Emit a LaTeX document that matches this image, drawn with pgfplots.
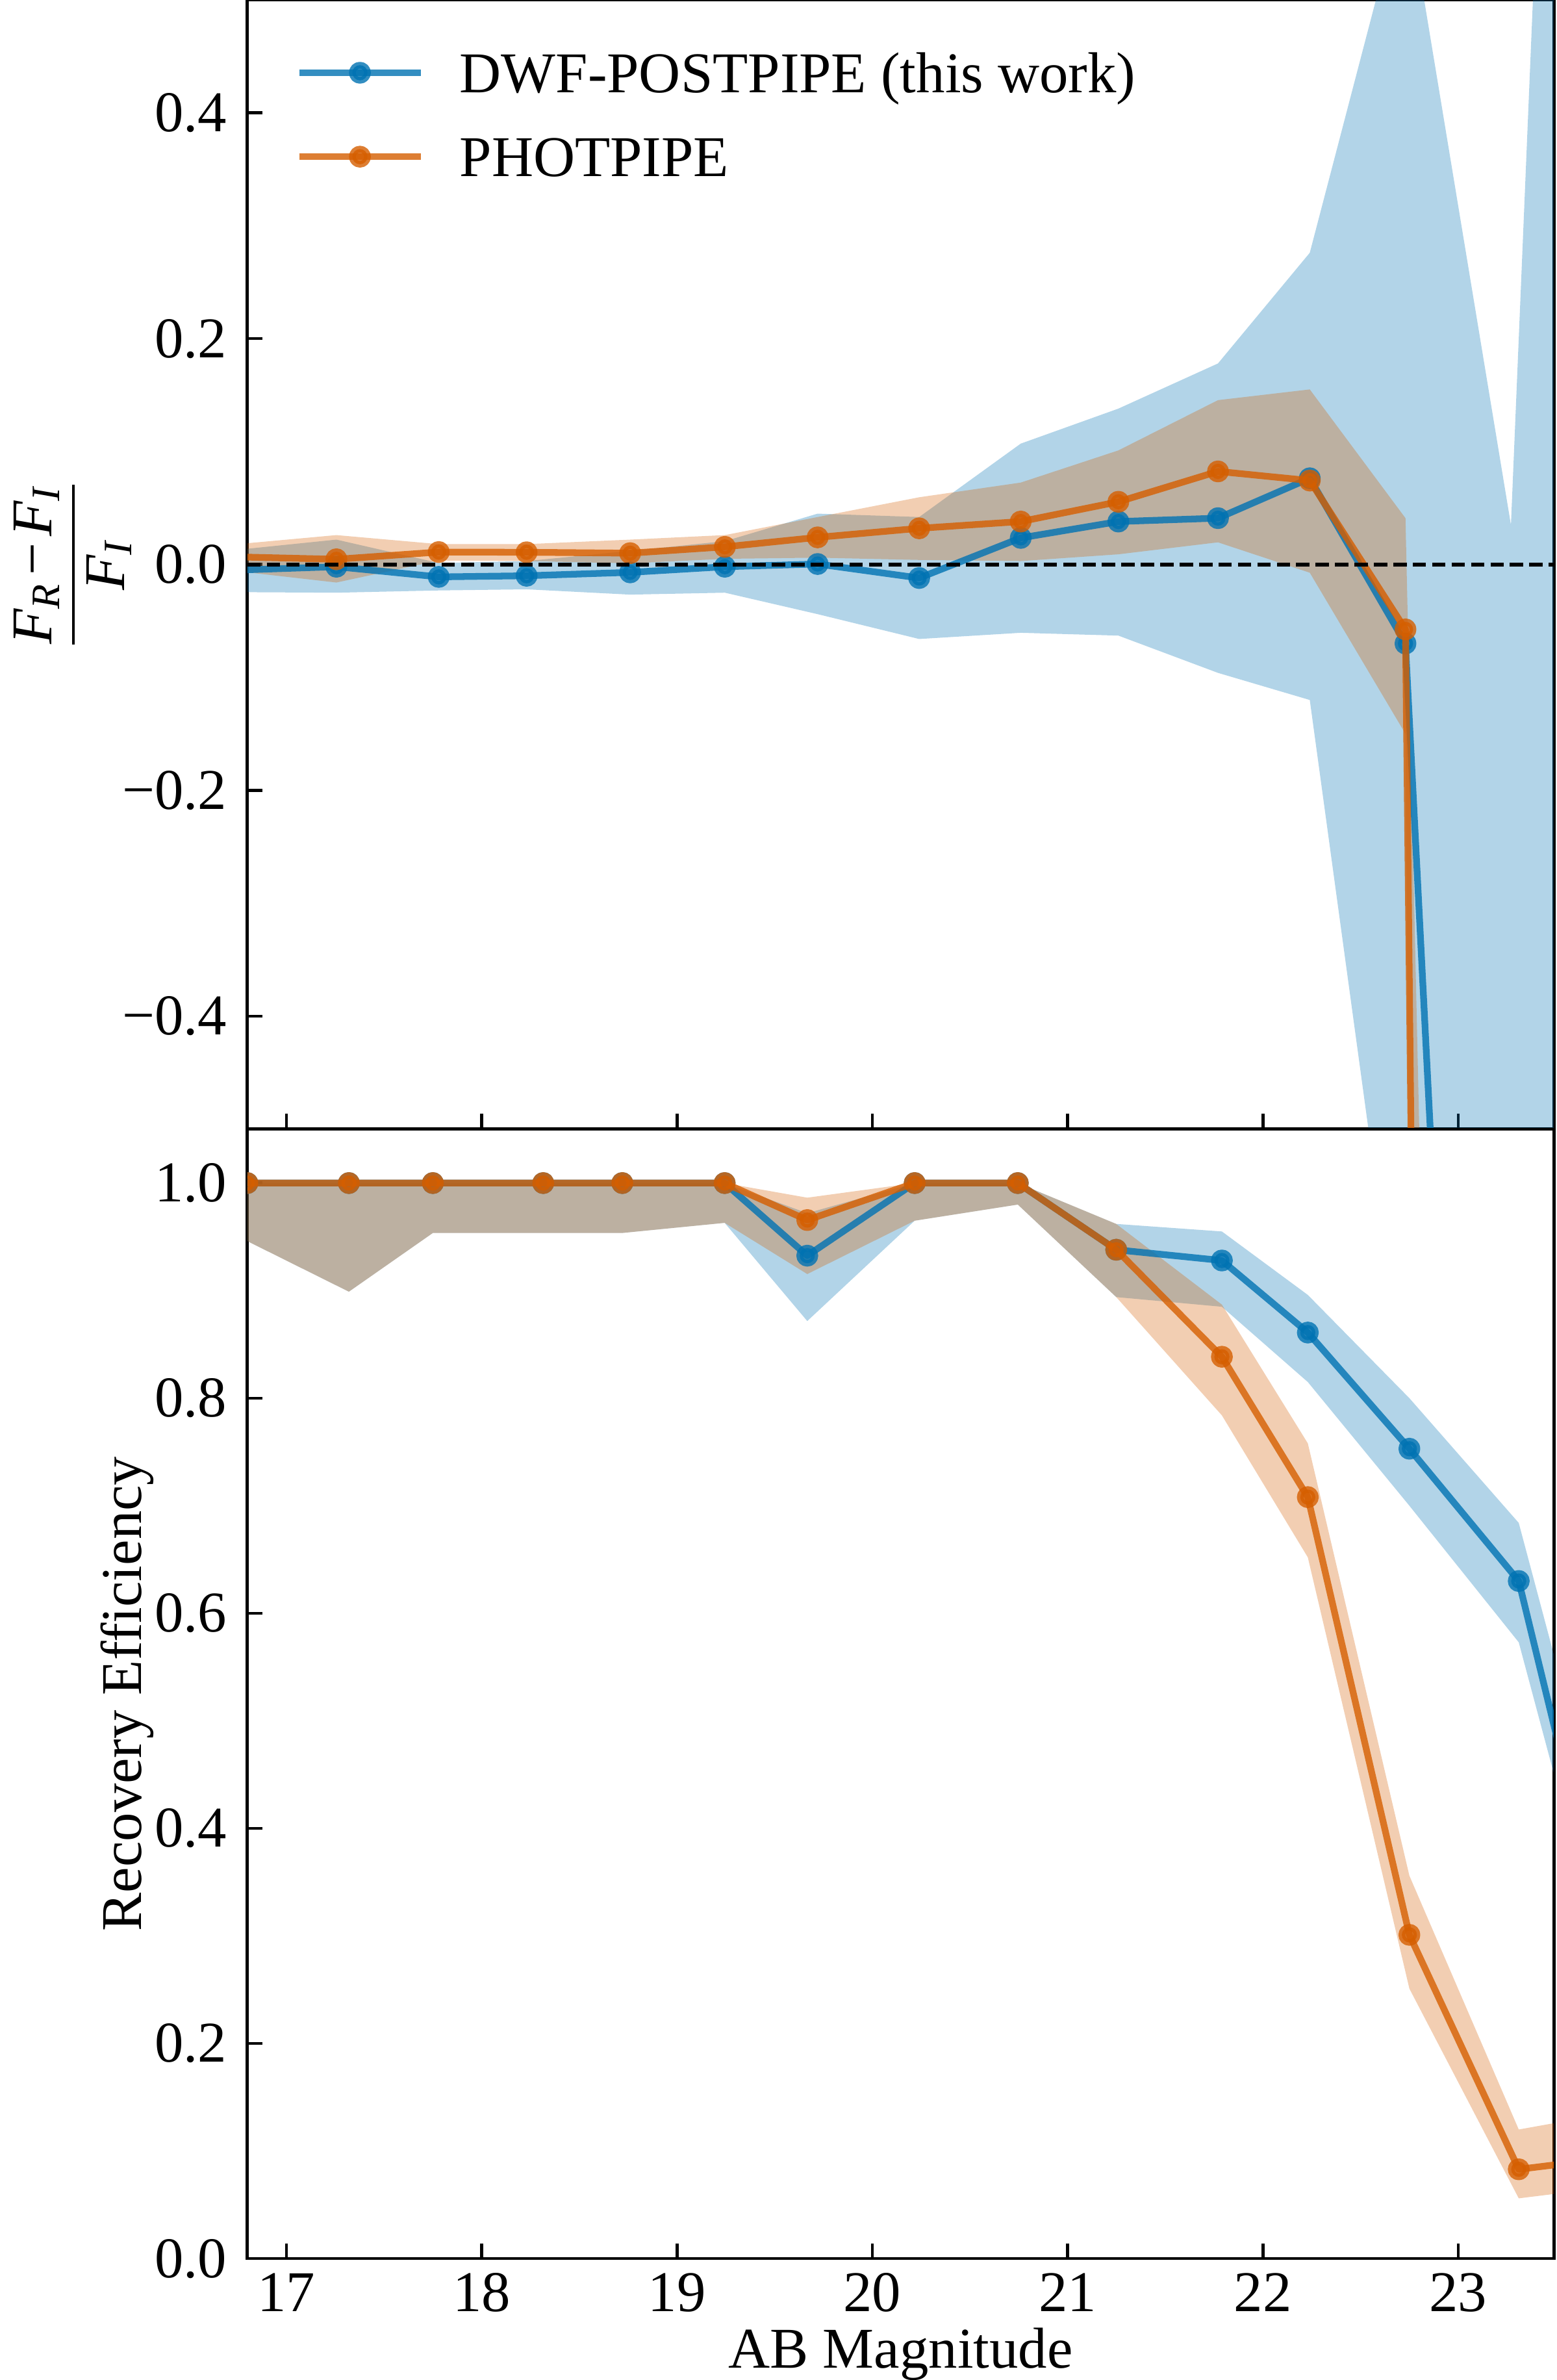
\documentclass[border=0pt]{standalone}
\usepackage{fontspec}
\setmainfont{Liberation Serif}
\usepackage{amsmath}
\usepackage{pgfplots}
\pgfplotsset{compat=1.18}

\definecolor{cbblue}{HTML}{0072B2}
\definecolor{cborange}{HTML}{D55E00}
\newcommand{\lstrut}{\rule[-1.8pt]{0pt}{9.8pt}}

\pgfplotsset{
  panel/.style={
    scale only axis, width=215.25pt, height=186pt,
    xmin=16.8, xmax=23.49, xtick={17,18,19,20,21,22,23},
    xtick pos=left, ytick pos=left, tick align=inside,
    major tick length=2.5pt,
    axis line style={line width=0.5pt},
    every tick/.style={black, line width=0.5pt},
    clip marker paths=true,
    tick label style={font=\fontsize{9.5}{11}\selectfont},
    xticklabel style={inner sep=0pt, yshift=-2.2pt},
    label style={font=\fontsize{9.5}{11}\selectfont},
  },
  series/.style={line width=1.1pt, line join=round, draw opacity=0.8, fill opacity=0.8,
    mark=*, mark size=1.25pt, mark options={solid}},
  band/.style={draw=none, fill opacity=0.3, forget plot},
}

\begin{document}
\fontsize{9.5}{11}\selectfont
\begin{tikzpicture}
% top panel: flux residual
\begin{axis}[panel, at={(0pt,186pt)},
  ymin=-0.5, ymax=0.5,
  ytick={-0.4,-0.2,0,0.2,0.4}, yticklabels={−0.4,−0.2,0.0,0.2,0.4},
  xticklabels={{},{},{},{},{},{},{}},
  ylabel={$\displaystyle\frac{\textit{F}_{\textit{R}}\mskip2mu\text{−}\mskip2mu\textit{F}_{\textit{I}}}{\textit{F}_{\textit{I}}}$},
  ylabel style={at={(axis description cs:-0.1335,0.5)}, anchor=center, inner sep=0pt},
  legend image code/.code={\draw[mark repeat=2, mark phase=2, #1] plot coordinates {(0pt,0pt) (10pt,0pt) (20pt,0pt)};},
  legend style={draw=none, fill=none, inner sep=0pt, outer sep=0pt,
    at={(axis description cs:0,1)}, anchor=north west, xshift=8pt, yshift=-7.3pt,
    row sep=4.4pt, column sep=5.9pt, nodes={inner sep=0pt},
    font=\fontsize{9.5}{11}\selectfont},
  legend cell align=left,
]
\addplot[band, fill=cbblue] coordinates {
  (16.75,0.013) (17.256,0.022) (17.78,0.0013) (18.23,0.003) (18.76,0.012) (19.245,0.0206)
  (19.72,0.045) (20.24,0.042) (20.76,0.107) (21.26,0.138) (21.77,0.178) (22.24,0.276)
  (22.73,0.60) (23.27,0.035) (23.77,2.1)
  (23.77,-4) (23.27,-4) (22.73,-0.74) (22.24,-0.12) (21.77,-0.096) (21.26,-0.063)
  (20.76,-0.0605) (20.24,-0.066) (19.72,-0.044) (19.245,-0.025) (18.76,-0.0267)
  (18.23,-0.022) (17.78,-0.023) (17.256,-0.025) (16.75,-0.0245)};
\addplot[band, fill=cborange] coordinates {
  (16.75,0.018) (17.256,0.026) (17.78,0.018) (18.23,0.018) (18.76,0.022) (19.245,0.026)
  (19.72,0.042) (20.24,0.0595) (20.76,0.0725) (21.26,0.101) (21.77,0.1455) (22.24,0.155)
  (22.73,0.041) (23.27,-4.1)
  (23.27,-13) (22.73,-0.150) (22.24,-0.0073) (21.77,0.0196) (21.26,0.009) (20.76,0.003)
  (20.24,0.004) (19.72,0.006) (19.245,0.005) (18.76,0.001) (18.23,0.003) (17.78,0.0035)
  (17.256,-0.016) (16.75,-0.006)};

\addplot[series, cbblue] coordinates {
  (16.75,-0.005) (17.256,-0.002) (17.78,-0.011) (18.23,-0.010) (18.76,-0.007) (19.245,-0.002)
  (19.72,0.0004) (20.24,-0.012) (20.76,0.0235) (21.26,0.038) (21.77,0.041) (22.24,0.0763)
  (22.73,-0.070) (23.27,-1.9) (23.77,-2.0)};
\addlegendentry{\lstrut DWF-POSTPIPE (this work)}
\addplot[series, cborange] coordinates {
  (16.75,0.0067) (17.256,0.0046) (17.78,0.011) (18.23,0.0108) (18.76,0.010) (19.245,0.0156)
  (19.72,0.024) (20.24,0.032) (20.76,0.038) (21.26,0.0555) (21.77,0.0824) (22.24,0.0743)
  (22.73,-0.0575) (23.27,-8.6)};
\addlegendentry{\lstrut PHOTPIPE}

\addplot[black, line width=0.6pt, dash pattern=on 2.2pt off 1pt, forget plot]
  coordinates {(16.8,0) (23.49,0)};
\end{axis}

% bottom panel: recovery efficiency
\begin{axis}[panel, at={(0pt,0pt)},
  ymin=0, ymax=1.05,
  ytick={0,0.2,0.4,0.6,0.8,1.0}, yticklabels={0.0,0.2,0.4,0.6,0.8,1.0},
  xticklabels={17,18,19,20,21,22,23},
  xlabel={AB Magnitude},
  xlabel style={at={(axis description cs:0.5,0)}, anchor=base, yshift=-18pt},
  ylabel={Recovery Efficiency},
  ylabel style={at={(axis description cs:-0.0813,0.5)}, anchor=base},
]
\addplot[band, fill=cbblue] coordinates {
  (16.80,1) (17.32,1) (17.75,1) (18.315,1) (18.72,1) (19.244,1) (19.667,0.972)
  (20.217,1) (20.745,1) (21.249,0.962) (21.79,0.955) (22.23,0.896) (22.75,0.800)
  (23.31,0.684) (23.80,0.35)
  (23.80,0.24) (23.31,0.573) (22.75,0.700) (22.23,0.815) (21.79,0.885) (21.249,0.894)
  (20.745,0.980) (20.217,0.965) (19.667,0.8717) (19.244,0.963) (18.72,0.9536)
  (18.315,0.9536) (17.75,0.9536) (17.32,0.899) (16.80,0.946)};
\addplot[band, fill=cborange] coordinates {
  (16.80,1) (17.32,1) (17.75,1) (18.315,1) (18.72,1) (19.244,1) (19.667,0.9864)
  (20.217,1) (20.745,1) (21.249,0.962) (21.79,0.887) (22.23,0.758) (22.75,0.356)
  (23.31,0.120) (23.80,0.136)
  (23.80,0.067) (23.31,0.056) (22.75,0.251) (22.23,0.652) (21.79,0.784) (21.249,0.894)
  (20.745,0.980) (20.217,0.965) (19.667,0.9154) (19.244,0.963) (18.72,0.9536)
  (18.315,0.9536) (17.75,0.9536) (17.32,0.899) (16.80,0.946)};

\addplot[series, cbblue] coordinates {
  (16.80,1) (17.32,1) (17.75,1) (18.315,1) (18.72,1) (19.244,1) (19.667,0.9325)
  (20.217,1) (20.745,1) (21.249,0.938) (21.79,0.928) (22.23,0.861) (22.75,0.753)
  (23.31,0.630) (23.80,0.265)};
\addplot[series, cborange] coordinates {
  (16.80,1) (17.32,1) (17.75,1) (18.315,1) (18.72,1) (19.244,1) (19.667,0.9656)
  (20.217,1) (20.745,1) (21.249,0.938) (21.79,0.8385) (22.23,0.708) (22.75,0.301)
  (23.31,0.083) (23.80,0.094)};
\end{axis}

\pgfresetboundingbox
\useasboundingbox (-40.75pt,-20pt) rectangle (215.75pt,372pt);
\end{tikzpicture}
\end{document}
